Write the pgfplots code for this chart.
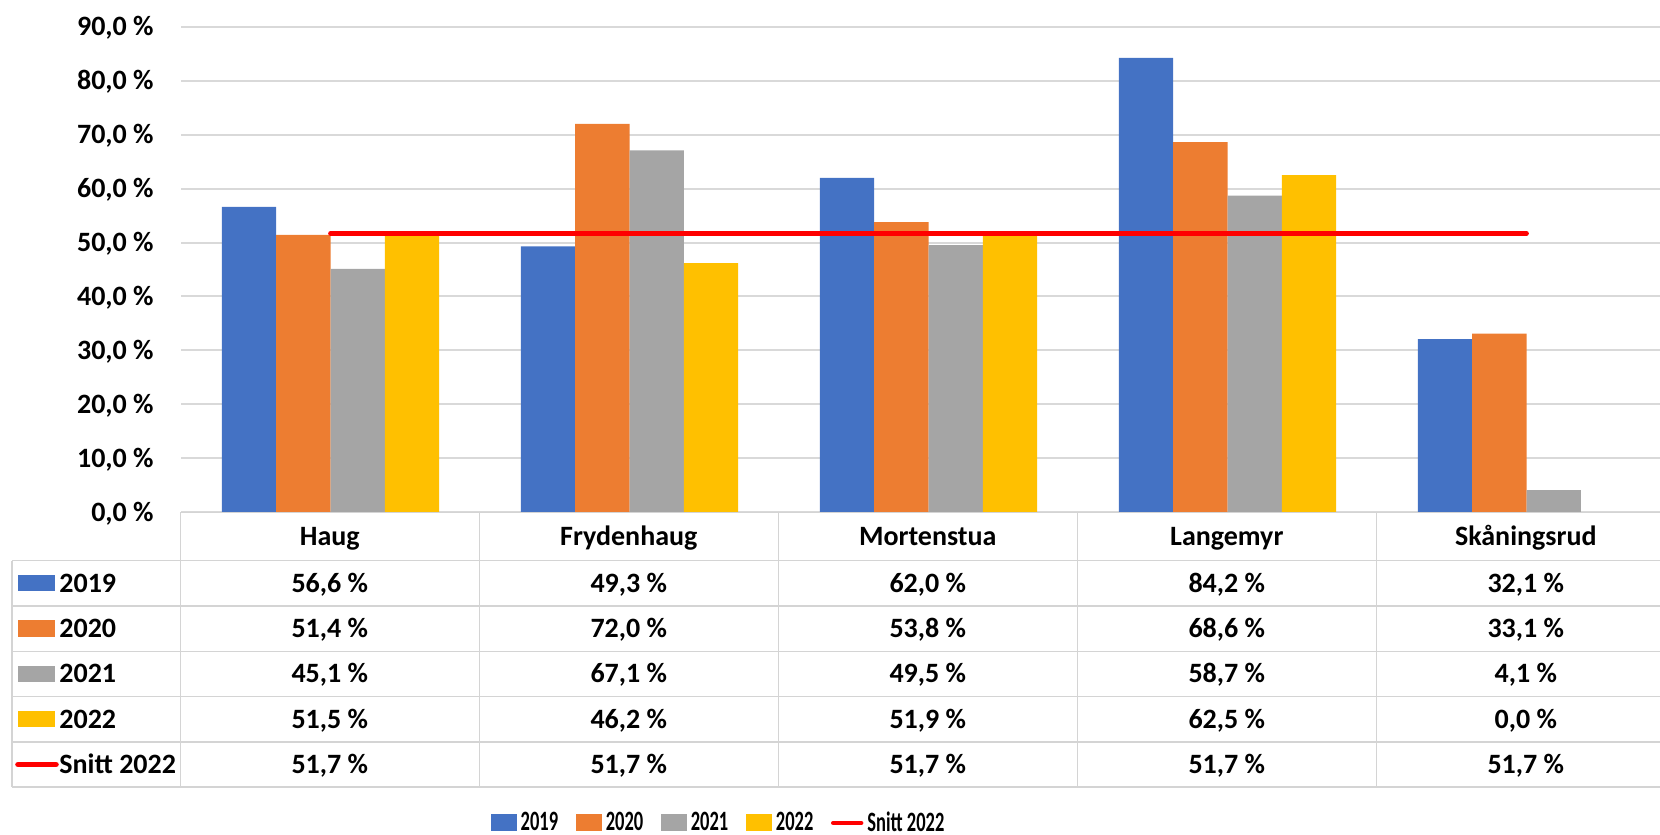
\documentclass[border=0pt]{standalone}
\usepackage{pgfplots}
\pgfplotsset{compat=1.18}
\usepackage{pgfplotstable}
\usepackage{graphicx}
\usepackage{fontspec}
\setmainfont{Carlito}

\definecolor{c19}{HTML}{4472C4}
\definecolor{c20}{HTML}{ED7D31}
\definecolor{c21}{HTML}{A5A5A5}
\definecolor{c22}{HTML}{FFC000}
\definecolor{gridgray}{HTML}{D9D9D9}
\definecolor{tablegray}{HTML}{D4D4D4}

\newcommand\ff{\fontsize{14}{17}\selectfont\bfseries}
\newcommand\legtxt[1]{{\ff\scalebox{0.66}[1]{#1}}}

% share of the year, per school (percent)
\pgfplotstableread{
name y2019 y2020 y2021 y2022 snitt
Haug 56.6 51.4 45.1 51.5 51.7
Frydenhaug 49.3 72.0 67.1 46.2 51.7
Mortenstua 62.0 53.8 49.5 51.9 51.7
Langemyr 84.2 68.6 58.7 62.5 51.7
Skåningsrud 32.1 33.1 4.1 0.0 51.7
}\datatable

\pgfplotsset{
  barkey/.style={legend image code/.code={\fill[##1] (0pt,-4.25pt) rectangle (13pt,4.25pt);}},
}

\begin{document}
\begin{tikzpicture}[x=0.5pt,y=0.5pt]
\begin{axis}[
  at={(90.5pt,161.35pt)}, anchor=south west,
  scale only axis, width=747.5pt, height=242.8pt,
  xmin=-0.5, xmax=4.5, ymin=0, ymax=90,
  xtick=\empty,
  ytick={0,10,...,90},
  yticklabel={\pgfmathprintnumber[fixed,fixed zerofill,precision=1,use comma,assume math mode=true]{\tick}~\%},
  yticklabel style={font=\ff, anchor=east, inner sep=0pt, xshift=-13.5pt, text height=9pt, text depth=0pt},
  major tick length=0pt,
  axis line style={draw=none},
  ymajorgrids=true,
  grid style={gridgray, line width=1pt},
  bar width=0.1816,
  legend columns=5,
  legend style={at={(0.3589,-0.6398)}, anchor=center, draw=none, fill=none,
    font=\ff, inner sep=0pt,
    nodes={inner sep=0pt, font=\ff},
    /tikz/every odd column/.append style={column sep=2pt},
    /tikz/every even column/.append style={column sep=8.8pt}},
]
\addplot[ybar, bar shift=-0.2724, fill=c19, draw=none, barkey] table[x expr=\coordindex, y=y2019] {\datatable};
\addplot[ybar, bar shift=-0.0908, fill=c20, draw=none, barkey] table[x expr=\coordindex, y=y2020] {\datatable};
\addplot[ybar, bar shift=0.0908, fill=c21, draw=none, barkey] table[x expr=\coordindex, y=y2021] {\datatable};
\addplot[ybar, bar shift=0.2724, fill=c22, draw=none, barkey] table[x expr=\coordindex, y=y2022] {\datatable};
\addplot[red, line width=2.35pt, line cap=round, mark=none,
  legend image code/.code={\draw[red, line width=2.2pt] (0pt,0pt) -- (14pt,0pt);}]
  table[x expr=\coordindex, y=snitt] {\datatable};
\legend{\legtxt{2019},\legtxt{2020},\legtxt{2021},\legtxt{2022},\legtxt{Snitt 2022}}
\end{axis}

% data table under the plot (pixel coordinates, y downwards)
\begin{scope}[shift={(0,835)}, y=-0.5pt]
  \begin{scope}[tablegray, line width=0.75pt]
    \draw (180.3,512.3) -- (1690,512.3);
    \foreach \yy in {560.7,606,651.3,696.6,741.9,787.2}
      \draw (12,\yy) -- (1690,\yy);
    \draw (12,560.7) -- (12,787.2);
    \foreach \xx in {180.3,479.3,778.3,1077.3,1376.3,1675.3}
      \draw (\xx,512.3) -- (\xx,787.2);
  \end{scope}
  \tikzset{cell/.style={font=\ff, inner sep=0pt, text height=9pt, text depth=0pt}}
  \foreach \n [count=\i from 0] in {Haug,Frydenhaug,Mortenstua,Langemyr,Skåningsrud}
    \node[cell] at ({329.8+299*\i},536.5) {\n};
  \foreach \col/\lab [count=\r from 0] in {y2019/2019,y2020/2020,y2021/2021,y2022/2022,snitt/Snitt 2022} {
    \foreach \i in {0,...,4} {
      \pgfplotstablegetelem{\i}{\col}\of\datatable
      \node[cell] at ({329.8+299*\i},{583.35+45.3*\r})
        {\pgfmathprintnumber[fixed,fixed zerofill,precision=1,use comma,assume math mode=true]{\pgfplotsretval}~\%};
    }
    \node[cell, anchor=west] at (59,{583.35+45.3*\r}) {\lab};
  }
  \fill[c19] (17.7,575.2) rectangle (55.3,591.5);
  \fill[c20] (17.7,620.5) rectangle (55.3,636.8);
  \fill[c21] (17.7,665.8) rectangle (55.3,682.1);
  \fill[c22] (17.7,711.1) rectangle (55.3,727.4);
  \draw[red, line width=2.8pt, line cap=round] (18,764.55) -- (56,764.55);
\end{scope}

\pgfresetboundingbox
\path[use as bounding box] (0,0) rectangle (1660,835);
\end{tikzpicture}
\end{document}
